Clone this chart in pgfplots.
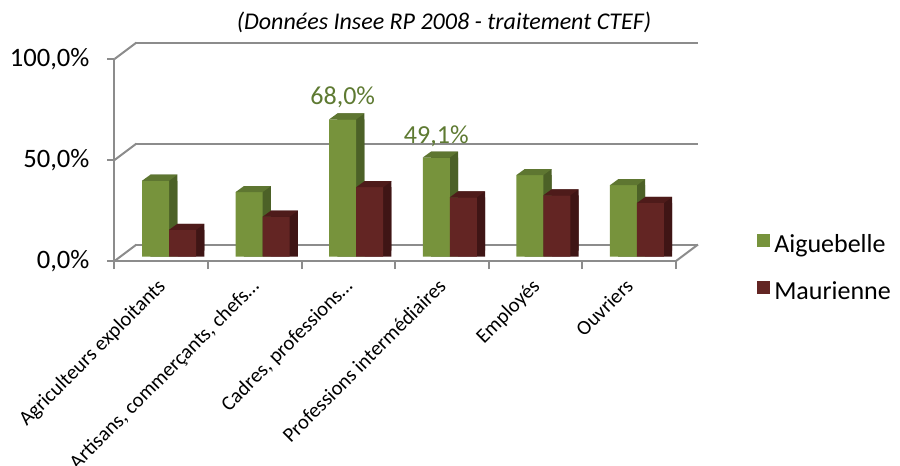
\documentclass[border=0pt]{standalone}
\usepackage{fontspec}
\setmainfont{Carlito}
\usepackage{pgfplots}
\usepackage{pgfplotstable}
\pgfplotsset{compat=1.18}
\definecolor{gfront}{HTML}{77933C}
\definecolor{gtop}{HTML}{5E7631}
\definecolor{gside}{HTML}{4C6127}
\definecolor{mfront}{HTML}{632523}
\definecolor{mtop}{HTML}{4E1B1A}
\definecolor{mside}{HTML}{3F1515}
\definecolor{gridgray}{HTML}{8C8C8C}
\definecolor{lblgreen}{HTML}{5E7A32}

% top face of a 3D bar: parallelogram, bar width 13.5pt, depth (4.15pt,3pt)
\pgfdeclareplotmark{topface}{%
  \pgfpathmoveto{\pgfpoint{0pt}{0pt}}%
  \pgfpathlineto{\pgfpoint{13.5pt}{0pt}}%
  \pgfpathlineto{\pgfpoint{17.65pt}{3pt}}%
  \pgfpathlineto{\pgfpoint{4.15pt}{3pt}}%
  \pgfpathclose
  \pgfusepathqfill}

\pgfplotstableread{
x a m
0.5 37.6 13.3
1.5 32.0 19.8
2.5 68.0 34.4
3.5 49.1 29.4
4.5 40.4 30.4
5.5 35.4 26.6
}\data
\pgfplotstableread{
x a
2.5 68.0
3.5 49.1
}\lbl

\begin{document}
\begin{tikzpicture}
\path[use as bounding box] (-57.25pt,-102.5pt) rectangle (392.75pt,130.5pt);
\begin{axis}[
  scale only axis, width=280.75pt, height=101pt,
  xmin=0, xmax=6, ymin=0, ymax=100, clip=false,
  axis x line*=bottom, axis y line*=left,
  axis line style={-, gridgray, line width=1pt},
  tick align=outside,
  xtick={0.5,1.5,2.5,3.5,4.5,5.5},
  xticklabels={Agriculteurs exploitants,{Artisans, commerçants, chefs…},{Cadres, professions…},Professions intermédiaires,Employés,Ouvriers},
  major x tick style={draw=none},
  minor xtick={0,1,2,3,4,5,6},
  minor tick length=4pt,
  minor x tick style={gridgray, line width=1pt},
  ytick={0,50,100},
  yticklabels={{0,0\%},{50,0\%},{100,0\%}},
  major tick length=3.5pt,
  y tick style={gridgray, line width=1pt},
  yticklabel style={font=\fontsize{13.3}{15}\selectfont, xshift=-5.5pt},
  xticklabel style={font=\fontsize{10.3}{12}\selectfont, inner sep=1pt, xshift=-2.5pt, yshift=-3pt, rotate=45, anchor=north east},
  ybar, bar width=0.2885,
  /pgf/number format/assume math mode=true,
  legend entries={Aiguebelle, Maurienne},
  legend cell align=left,
  legend style={at={(1.144,-0.035)}, anchor=west, draw=none, fill=none,
    font=\fontsize{13}{15}\selectfont, row sep=9pt, inner xsep=0pt},
]
% back wall and side lines
\draw[gridgray, line width=1pt] ([shift={(11pt,8.25pt)}]axis cs:0,100) -- ([shift={(11pt,8.25pt)}]axis cs:6,100);
\draw[gridgray, line width=1pt] ([shift={(11pt,8.25pt)}]axis cs:0,50) -- ([shift={(11pt,8.25pt)}]axis cs:6,50);
\draw[gridgray, line width=1pt] ([shift={(11pt,8.25pt)}]axis cs:0,0) -- ([shift={(11pt,8.25pt)}]axis cs:6,0);
\draw[gridgray, line width=1pt] (axis cs:0,100) -- ([shift={(11pt,8.25pt)}]axis cs:0,100);
\draw[gridgray, line width=1pt] (axis cs:0,50) -- ([shift={(11pt,8.25pt)}]axis cs:0,50);
\draw[gridgray, line width=1pt] (axis cs:0,0) -- ([shift={(11pt,8.25pt)}]axis cs:0,0);
\draw[gridgray, line width=1pt] (axis cs:6,0) -- ([shift={(11pt,8.25pt)}]axis cs:6,0);
% Aiguebelle: side faces, front faces, top faces
\addplot[forget plot, fill=gside, draw=none, bar shift=-0.115, xshift=6.65pt, yshift=5.15pt] table[x=x,y=a]{\data};
\addplot[forget plot, fill=gside, draw=none, bar shift=-0.115, xshift=6.65pt, yshift=2.15pt] table[x=x,y=a]{\data};
\addplot[fill=gfront, draw=none, bar shift=-0.115, xshift=2.5pt, yshift=2.15pt,
  legend image code/.code={\fill[gfront] (0pt,-3.25pt) rectangle (6.5pt,3.25pt);}] table[x=x,y=a]{\data};
\addplot[forget plot, sharp plot, draw=none, mark=topface, mark options={fill=gtop, draw=none},
  xshift=-9.63pt, yshift=2.15pt] table[x=x,y=a]{\data};
% Maurienne
\addplot[forget plot, fill=mside, draw=none, bar shift=0.1735, xshift=6.65pt, yshift=5.15pt] table[x=x,y=m]{\data};
\addplot[forget plot, fill=mside, draw=none, bar shift=0.1735, xshift=6.65pt, yshift=2.15pt] table[x=x,y=m]{\data};
\addplot[fill=mfront, draw=none, bar shift=0.1735, xshift=2.5pt, yshift=2.15pt,
  legend image code/.code={\fill[mfront] (0pt,-3.25pt) rectangle (6.5pt,3.25pt);}] table[x=x,y=m]{\data};
\addplot[forget plot, sharp plot, draw=none, mark=topface, mark options={fill=mtop, draw=none},
  xshift=3.87pt, yshift=2.15pt] table[x=x,y=m]{\data};
% data labels
\addplot[forget plot, draw=none, fill=none, bar shift=-0.115, xshift=2.5pt, yshift=2.15pt,
  point meta=y,
  nodes near coords={\pgfmathprintnumber[fixed, fixed zerofill, precision=1, use comma]{\pgfplotspointmeta}\%},
  every node near coord/.append style={font=\fontsize{13}{15}\selectfont, text=lblgreen, yshift=2pt}]
  table[x=x,y=a]{\lbl};
\end{axis}
\node[font=\fontsize{12}{14}\selectfont\itshape] at (164.75pt,119.5pt) {(Données Insee RP 2008 - traitement CTEF)};
\end{tikzpicture}
\end{document}
